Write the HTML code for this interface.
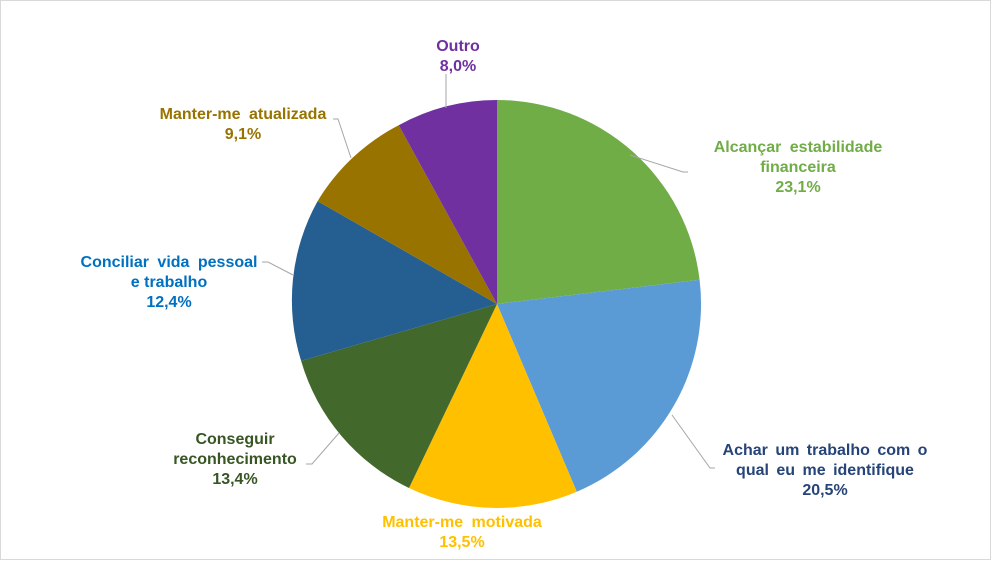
<!DOCTYPE html>
<html><head><meta charset="utf-8"><style>
body{margin:0;background:#fff;}
svg text{font-family:"Liberation Sans",Arial,sans-serif;font-weight:bold;font-size:16px;text-anchor:middle;}
</style></head><body>
<svg width="993" height="562" viewBox="0 0 993 562" xmlns="http://www.w3.org/2000/svg">
<rect x="0.5" y="0.5" width="990" height="559" fill="#fff" stroke="#d9d9d9"/>
<g stroke="none">
<path d="M497,304 L497,100 A204,204 0 0 1 699.6,279.7 Z" fill="#70AD47"/>
<path d="M497,304 L699.6,279.7 A204,204 0 0 1 576.8,491.7 Z" fill="#5B9BD5"/>
<path d="M497,304 L576.8,491.7 A204,204 0 0 1 409.0,488.0 Z" fill="#FFC000"/>
<path d="M497,304 L409.0,488.0 A204,204 0 0 1 301.1,360.9 Z" fill="#43682B"/>
<path d="M497,304 L301.1,360.9 A204,204 0 0 1 317.6,201.1 Z" fill="#255E91"/>
<path d="M497,304 L317.6,201.1 A204,204 0 0 1 398.7,125.2 Z" fill="#997300"/>
<path d="M497,304 L398.7,125.2 A204,204 0 0 1 497,100 Z" fill="#7030A0"/>
</g>
<g stroke="#a6a6a6" fill="none" stroke-width="1">
<polyline points="630,155 683,172 688,172"/>
<polyline points="672,415 710,468 715,468"/>
<polyline points="446,108 446,74"/>
<polyline points="351,158 338,119 333,119"/>
<polyline points="293,275 268,262 262,262"/>
<polyline points="339,433 312,464 306,464"/>
</g>
<text x="458" y="51" fill="#7030A0">Outro</text>
<text x="458" y="71" fill="#7030A0">8,0%</text>
<text x="243" y="119" fill="#997300" word-spacing="4">Manter-me atualizada</text>
<text x="243" y="139" fill="#997300">9,1%</text>
<text x="169" y="267" fill="#0070C0" word-spacing="4">Conciliar vida pessoal</text>
<text x="169" y="287" fill="#0070C0">e trabalho</text>
<text x="169" y="307" fill="#0070C0">12,4%</text>
<text x="235" y="444" fill="#375623">Conseguir</text>
<text x="235" y="464" fill="#375623">reconhecimento</text>
<text x="235" y="484" fill="#375623">13,4%</text>
<text x="462" y="527" fill="#FFC000" word-spacing="4">Manter-me motivada</text>
<text x="462" y="547" fill="#FFC000">13,5%</text>
<text x="798" y="152" fill="#70AD47" word-spacing="4">Alcançar estabilidade</text>
<text x="798" y="172" fill="#70AD47">financeira</text>
<text x="798" y="192" fill="#70AD47">23,1%</text>
<text x="825" y="455" fill="#264478" word-spacing="3">Achar um trabalho com o</text>
<text x="825" y="475" fill="#264478" word-spacing="3">qual eu me identifique</text>
<text x="825" y="495" fill="#264478">20,5%</text>
</svg>
</body></html>
